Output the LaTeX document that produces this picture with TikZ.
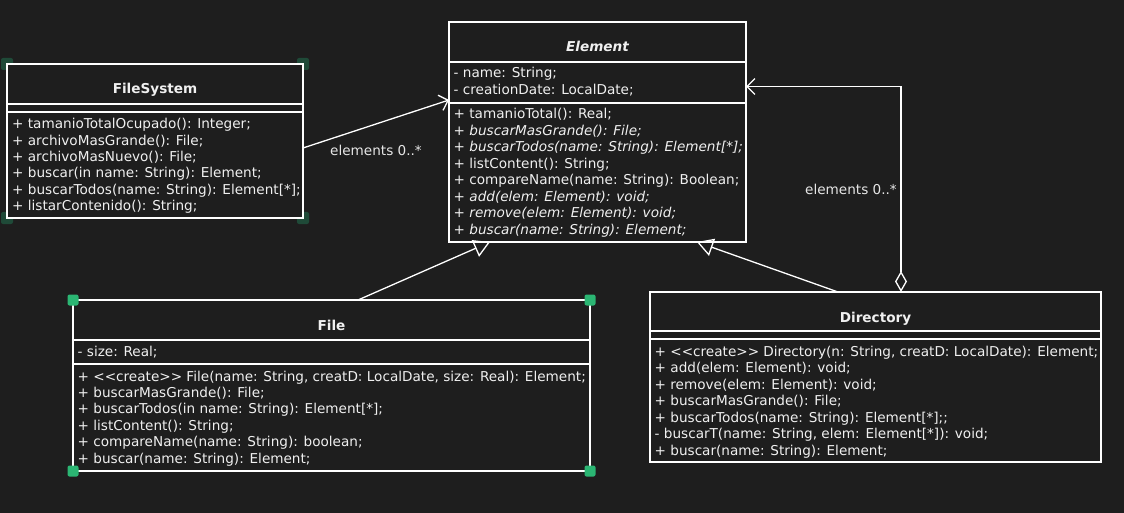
\documentclass[tikz,border=0pt]{standalone}
\usepackage{fontspec}
\setmainfont{DejaVu Sans}
\usetikzlibrary{arrows.meta}
\definecolor{bg}{HTML}{1E1E1E}
\definecolor{fg}{HTML}{F0F0F0}
\definecolor{lbl}{HTML}{E6E6E6}
\definecolor{hdl}{HTML}{2BB673}
\definecolor{hdldark}{HTML}{1F4A38}
\newcommand\ml[4]{\node[txt] (#1) at (#2,#3) {#4};}
\begin{document}
\begin{tikzpicture}[x=1pt,y=-1pt,
  umlbox/.style={draw=white, line width=1.3pt, fill=bg, inner sep=0pt, outer sep=0pt, anchor=north west},
  sepline/.style={draw=white, line width=1.3pt},
  txt/.style={text=fg, font=\fontsize{13.6}{15}\selectfont, anchor=base west, inner sep=0pt},
  ttl/.style={text=fg, font=\fontsize{13.6}{15}\selectfont\bfseries, anchor=base, inner sep=0pt},
  lbltxt/.style={text=lbl, font=\fontsize{13.6}{15}\selectfont, inner sep=0pt},
  conn/.style={draw=white, line width=1.3pt},
  handle/.style={fill=hdl, rounded corners=2pt},
  handledark/.style={fill=hdldark, rounded corners=2pt}]
\fill[bg] (0,0) rectangle (1124,513);
\useasboundingbox (0,0) rectangle (1124,513);

% FileSystem handles
\foreach \px/\py in {7/64,303/64,7/218,303/218}
  \fill[handledark] (\px-6,\py-6) rectangle (\px+6,\py+6);
% FileSystem
\node[umlbox, minimum width=296pt, minimum height=154pt] (fs) at (7,64) {};
\draw[sepline] (7,104) -- (303,104);
\draw[sepline] (7,112) -- (303,112);
\node[ttl] (fst) at (155,94) {FileSystem};
\ml{fs1}{12}{128.8}{+ tamanioTotalOcupado(): Integer;}
\ml{fs2}{12}{145.2}{+ archivoMasGrande(): File;}
\ml{fs3}{12}{161.6}{+ archivoMasNuevo(): File;}
\ml{fs4}{12}{178}{+ buscar(in name: String): Element;}
\ml{fs5}{12}{194.4}{+ buscarTodos(name: String): Element[*];}
\ml{fs6}{12}{210.8}{+ listarContenido(): String;}

% Element
\node[umlbox, minimum width=297pt, minimum height=220pt] (el) at (449,22) {};
\draw[sepline] (449,62) -- (746,62);
\draw[sepline] (449,103) -- (746,103);
\node[ttl, font=\fontsize{13.6}{15}\selectfont\bfseries\itshape] (elt) at (597.5,52) {Element};
\ml{ea1}{453.5}{78}{- name: String;}
\ml{ea2}{453.5}{94.5}{- creationDate: LocalDate;}
\ml{em1}{453.5}{119}{+ tamanioTotal(): Real;}
\ml{em2}{453.5}{135.5}{\itshape + buscarMasGrande(): File;}
\ml{em3}{453.5}{152}{\itshape + buscarTodos(name: String): Element[*];}
\ml{em4}{453.5}{168.5}{+ listContent(): String;}
\ml{em5}{453.5}{185}{+ compareName(name: String): Boolean;}
\ml{em6}{453.5}{201.5}{\itshape + add(elem: Element): void;}
\ml{em7}{453.5}{218}{\itshape + remove(elem: Element): void;}
\ml{em8}{453.5}{234.5}{\itshape + buscar(name: String): Element;}

% File
\node[umlbox, minimum width=517pt, minimum height=171pt] (fi) at (73,300) {};
\draw[sepline] (73,340) -- (590,340);
\draw[sepline] (73,364) -- (590,364);
\foreach \px/\py in {73/300,590/300,73/471,590/471}
  \fill[handle] (\px-5.5,\py-5.5) rectangle (\px+5.5,\py+5.5);
\node[ttl] (fit) at (331.5,330) {File};
\ml{fa1}{77.5}{356}{- size: Real;}
\ml{fm1}{77.5}{381}{+ <{}<create>{}> File(name: String, creatD: LocalDate, size: Real): Element;}
\ml{fm2}{77.5}{397.4}{+ buscarMasGrande(): File;}
\ml{fm3}{77.5}{413.8}{+ buscarTodos(in name: String): Element[*];}
\ml{fm4}{77.5}{430.2}{+ listContent(): String;}
\ml{fm5}{77.5}{446.6}{+ compareName(name: String): boolean;}
\ml{fm6}{77.5}{463}{+ buscar(name: String): Element;}

% Directory
\node[umlbox, minimum width=451pt, minimum height=170pt] (di) at (650,292) {};
\draw[sepline] (650,331) -- (1101,331);
\draw[sepline] (650,339) -- (1101,339);
\node[ttl] (dit) at (875.5,322) {Directory};
\ml{dm1}{654.5}{356}{+ <{}<create>{}> Directory(n: String, creatD: LocalDate): Element;}
\ml{dm2}{654.5}{372.5}{+ add(elem: Element): void;}
\ml{dm3}{654.5}{389}{+ remove(elem: Element): void;}
\ml{dm4}{654.5}{405.5}{+ buscarMasGrande(): File;}
\ml{dm5}{654.5}{422}{+ buscarTodos(name: String): Element[*];;}
\ml{dm6}{654.5}{438.5}{- buscarT(name: String, elem: Element[*]): void;}
\ml{dm7}{654.5}{455}{+ buscar(name: String): Element;}

% Connectors
\draw[conn, -{Straight Barb[length=8pt,width=16pt]}] ([yshift=-7pt]fs.east) -- ([yshift=32pt]el.west);
\node[lbltxt] (lab1) at (376,150) {elements 0..*};

\draw[conn, -{Triangle[open,length=16pt,width=18pt]}] ([xshift=26.5pt]fi.north) -- ([xshift=-107.5pt]el.south);
\draw[conn, -{Triangle[open,length=16pt,width=18pt]}] ([xshift=-37.5pt]di.north) -- ([xshift=99.5pt]el.south);

\coordinate (agg) at (901,86.5);
\draw[conn, {Diamond[open,length=21pt,width=12pt]}-{Straight Barb[length=8pt,width=16pt]}] ([xshift=25.5pt]di.north) -- (agg) -- ([yshift=45.5pt]el.east);
\node[lbltxt, anchor=east] (lab2) at (897,189) {elements 0..*};
\end{tikzpicture}
\end{document}
